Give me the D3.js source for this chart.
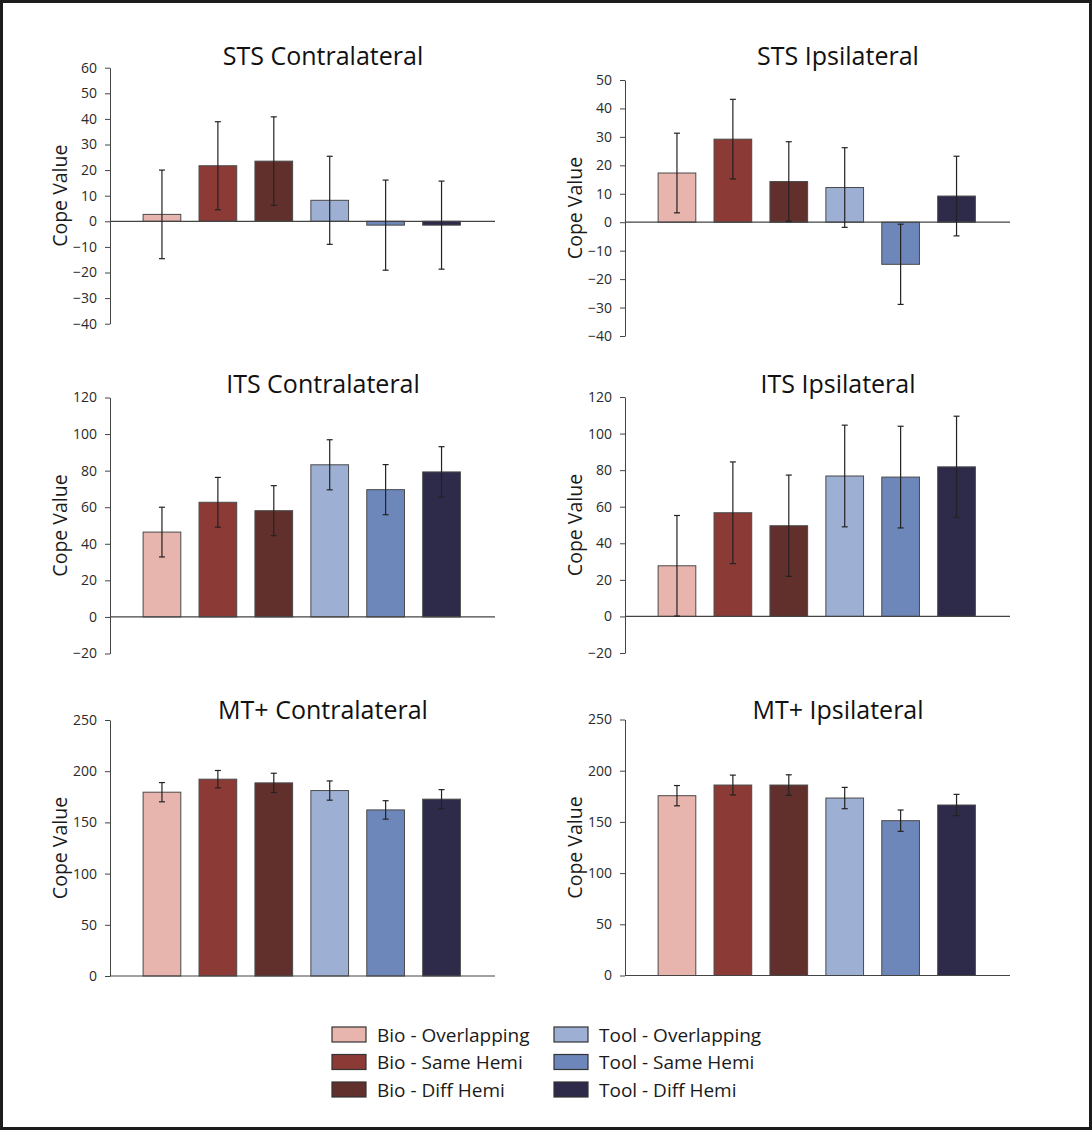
<!DOCTYPE html>
<html>
<head>
<meta charset="utf-8">
<script src="https://cdn.jsdelivr.net/npm/d3@7"></script>
<style>
    body { margin: 0; background: #fff; }
    svg { display: block; font-family: "Open Sans", sans-serif; }
</style>
</head>
<body>
<div id="chart"></div>
<script>
var width = 1092, height = 1130;

// conditions, same order in every panel
var categories = ["Bio - Overlapping", "Bio - Same Hemi", "Bio - Diff Hemi",
                  "Tool - Overlapping", "Tool - Same Hemi", "Tool - Diff Hemi"];
var colors = ["#e8b4ae", "#8c3a36", "#62302c", "#9dafd3", "#6e87bb", "#2e2a4a"];

// values (mean, +/- error)
var stsContraMean = [2.7, 21.7, 23.5, 8.2, -1.5, -1.5];
var stsContraErr = [17.3, 17.2, 17.3, 17.2, 17.6, 17.2];
var stsIpsiMean = [17.3, 29.2, 14.3, 12.2, -14.8, 9.2];
var stsIpsiErr = [14, 14, 14, 14, 14.1, 14];
var itsContraMean = [46.4, 62.7, 58.1, 83.2, 69.6, 79.3];
var itsContraErr = [13.6, 13.6, 13.7, 13.7, 13.7, 13.8];
var itsIpsiMean = [27.7, 56.7, 49.6, 76.8, 76.2, 81.8];
var itsIpsiErr = [27.5, 27.8, 27.7, 27.8, 27.8, 27.7];
var mtContraMean = [179.5, 192.2, 188.6, 181.1, 162.2, 172.7];
var mtContraErr = [9.4, 8.5, 9.4, 9.4, 9, 9.3];
var mtIpsiMean = [175.6, 186, 186, 173.3, 151.2, 166.5];
var mtIpsiErr = [9.9, 9.7, 10, 10.4, 10.4, 10.4];

// tick labels
var stsContraTicks = [-40, -30, -20, -10, 0, 10, 20, 30, 40, 50, 60];
var stsIpsiTicks = [-40, -30, -20, -10, 0, 10, 20, 30, 40, 50];
var itsTicks = [-20, 0, 20, 40, 60, 80, 100, 120];
var mtTicks = [0, 50, 100, 150, 200, 250];

var panels = [
    { title: "STS Contralateral", mean: stsContraMean, err: stsContraErr, ticks: stsContraTicks, left: 110, top: 67.7, titleY: 65 },
    { title: "STS Ipsilateral", mean: stsIpsiMean, err: stsIpsiErr, ticks: stsIpsiTicks, left: 625, top: 80, titleY: 65 },
    { title: "ITS Contralateral", mean: itsContraMean, err: itsContraErr, ticks: itsTicks, left: 110, top: 397.5, titleY: 393 },
    { title: "ITS Ipsilateral", mean: itsIpsiMean, err: itsIpsiErr, ticks: itsTicks, left: 625, top: 397, titleY: 393 },
    { title: "MT+ Contralateral", mean: mtContraMean, err: mtContraErr, ticks: mtTicks, left: 110, top: 720, titleY: 719 },
    { title: "MT+ Ipsilateral", mean: mtIpsiMean, err: mtIpsiErr, ticks: mtTicks, left: 625, top: 719.5, titleY: 719 }
];

var plotH = 256, baseLen = 385;

var svg = d3.select("#chart").append("svg")
    .attr("width", width)
    .attr("height", height);

// dark frame round the figure
svg.append("rect").attr("width", width).attr("height", height).attr("fill", "#1c1c1c");
svg.append("rect").attr("x", 3).attr("y", 3)
    .attr("width", width - 6).attr("height", height - 6)
    .attr("fill", "#fff");

function drawPanel(p) {
    var g = svg.append("g");

    var y = d3.scaleLinear()
        .domain([d3.min(p.ticks), d3.max(p.ticks)])
        .range([p.top + plotH, p.top]);

    var x = d3.scaleBand()
        .domain(categories)
        .range([p.left + 24, p.left + 359.5])
        .paddingInner(0.326)
        .paddingOuter(0.163);

    // y axis
    var ax = g.append("g")
        .attr("transform", "translate(" + p.left + ",0)")
        .call(d3.axisLeft(y).tickValues(p.ticks).tickSize(5).tickPadding(8).tickSizeOuter(0));
    ax.select(".domain").attr("stroke", "#444");
    ax.selectAll(".tick line").attr("stroke", "#444");
    ax.selectAll(".tick text")
        .attr("fill", "#2a2a2a")
        .style("font-size", "14px")
        .style("font-family", "'Open Sans', sans-serif");

    // bars
    g.selectAll(".bar")
        .data(p.mean)
        .enter().append("rect")
        .attr("class", "bar")
        .attr("x", function (d, i) { return x(categories[i]); })
        .attr("y", function (d) { return y(Math.max(0, d)); })
        .attr("width", x.bandwidth())
        .attr("height", function (d) { return Math.abs(y(d) - y(0)); })
        .attr("fill", function (d, i) { return colors[i]; })
        .attr("stroke", "#4a4a4a")
        .attr("stroke-width", 1);

    // zero line
    g.append("line")
        .attr("x1", p.left).attr("x2", p.left + baseLen)
        .attr("y1", y(0)).attr("y2", y(0))
        .attr("stroke", "#444").attr("stroke-width", 1.2);

    // error bars
    var eb = g.selectAll(".err")
        .data(p.mean)
        .enter().append("g")
        .attr("class", "err")
        .attr("stroke", "#222")
        .attr("stroke-width", 1.2);
    var cx = function (i) { return x(categories[i]) + x.bandwidth() / 2; };
    eb.append("line")
        .attr("x1", function (d, i) { return cx(i); })
        .attr("x2", function (d, i) { return cx(i); })
        .attr("y1", function (d, i) { return y(d + p.err[i]); })
        .attr("y2", function (d, i) { return y(d - p.err[i]); });
    [1, -1].forEach(function (s) {
        eb.append("line")
            .attr("x1", function (d, i) { return cx(i) - 3; })
            .attr("x2", function (d, i) { return cx(i) + 3; })
            .attr("y1", function (d, i) { return y(d + s * p.err[i]); })
            .attr("y2", function (d, i) { return y(d + s * p.err[i]); });
    });

    // title
    g.append("text")
        .attr("x", p.left + 213)
        .attr("y", p.titleY)
        .attr("text-anchor", "middle")
        .attr("fill", "#111")
        .style("font-size", "25px")
        .text(p.title);

    // y label
    g.append("text")
        .attr("transform", "translate(" + (p.left - 43) + "," + (p.top + plotH / 2) + ") rotate(-90)")
        .attr("text-anchor", "middle")
        .attr("fill", "#1a1a1a")
        .style("font-size", "19.5px")
        .text("Cope Value");
}

panels.forEach(drawPanel);

// legend, two columns of three
var legend = svg.append("g");
var legItems = legend.selectAll(".leg")
    .data(categories)
    .enter().append("g")
    .attr("class", "leg")
    .attr("transform", function (d, i) {
        var col = Math.floor(i / 3), row = i % 3;
        return "translate(" + (332 + col * 222) + "," + (1027 + row * 27.5) + ")";
    });
legItems.append("rect")
    .attr("width", 34).attr("height", 15)
    .attr("fill", function (d, i) { return colors[i]; })
    .attr("stroke", "#333").attr("stroke-width", 1.2);
legItems.append("text")
    .attr("x", 45).attr("y", 14.5)
    .attr("fill", "#1a1a1a")
    .style("font-size", "19px")
    .text(function (d) { return d; });
</script>
</body>
</html>
